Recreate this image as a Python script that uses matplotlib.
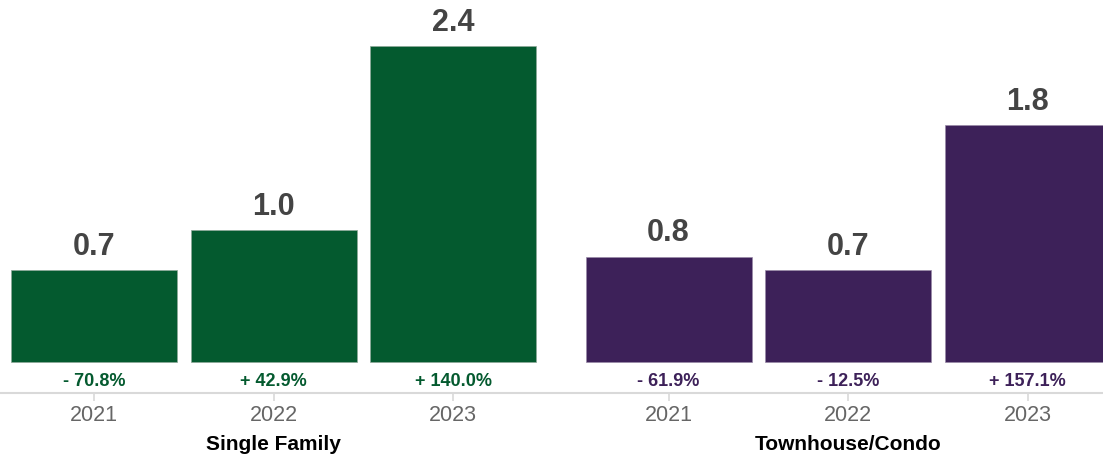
import numpy as np
import matplotlib.pyplot as plt
from matplotlib.transforms import blended_transform_factory

plt.rcParams['font.family'] = ['Liberation Sans', 'DejaVu Sans']

# data
groups = ["Single Family", "Townhouse/Condo"]
years = ["2021", "2022", "2023"]
single_family = [0.7, 1.0, 2.4]
townhouse_condo = [0.8, 0.7, 1.8]
sf_change = ["- 70.8%", "+ 42.9%", "+ 140.0%"]
tc_change = ["- 61.9%", "- 12.5%", "+ 157.1%"]

green = "#045a2f"
purple = "#3d2159"

fig = plt.figure(figsize=(11.03, 4.59), dpi=100)
ax = fig.add_axes([0, 0.1438, 1, 0.8562])

group_gap = 1.2
x_sf = np.arange(len(years))
x_tc = x_sf + len(years) - 1 + group_gap
width = 0.925

for xs, vals, changes, col, edge in [(x_sf, single_family, sf_change, green, "#8fa89a"),
                                     (x_tc, townhouse_condo, tc_change, purple, "#9a8aa8")]:
    bars = ax.bar(xs, vals, width=width, color=col, edgecolor=edge, linewidth=0.5)
    for b, v, ch in zip(bars, vals, changes):
        ax.annotate(f"{v:.1f}", (b.get_x() + b.get_width() / 2, v),
                    xytext=(0, 6), textcoords="offset points",
                    ha="center", va="bottom", fontsize=22, fontweight="bold", color="#444444")
        ax.text(b.get_x() + b.get_width() / 2, -0.144, ch, ha="center", va="center",
                fontsize=13, fontweight="bold", color=col)

ax.set_xlim(-0.524, 5.62)
ax.set_ylim(-0.235, 2.749)

ax.set_xticks(np.concatenate([x_sf, x_tc]))
ax.set_xticklabels(years * 2, fontsize=15.5, color="#666666")
ax.tick_params(axis="x", length=6, color="#d9d9d9", width=1.2, pad=3)
ax.set_yticks([])
for s in ["top", "left", "right"]:
    ax.spines[s].set_visible(False)
ax.spines["bottom"].set_color("#d9d9d9")
ax.spines["bottom"].set_linewidth(1.5)

# group names under the years
trans = blended_transform_factory(ax.transData, fig.transFigure)
for xs, name in zip([x_sf, x_tc], groups):
    fig.text(xs.mean(), 1 - 445 / 459, name, transform=trans, ha="center", va="center",
             fontsize=15, fontweight="bold", color="black")

fig.savefig("out.png", dpi=100)
